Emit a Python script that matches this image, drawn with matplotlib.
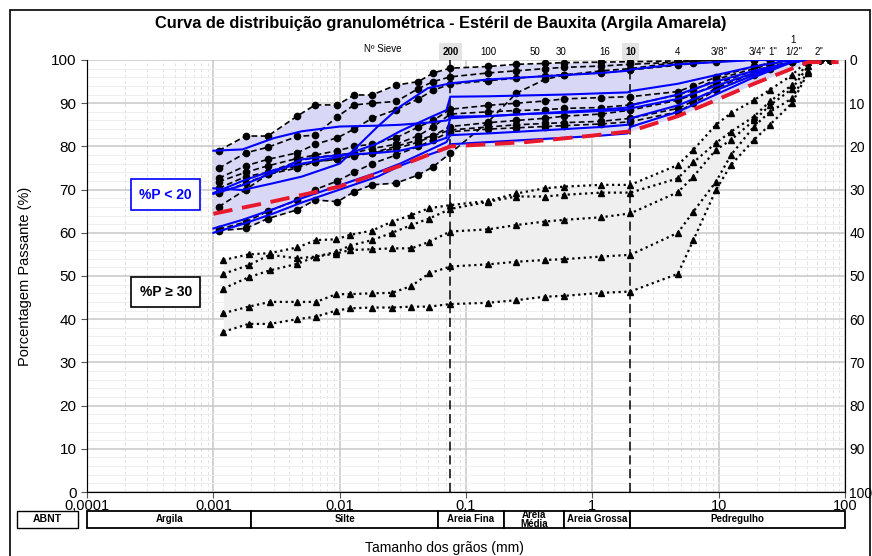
import numpy as np
import matplotlib.pyplot as plt
from matplotlib.patches import Rectangle
from matplotlib.ticker import FixedLocator, NullFormatter

plt.rcParams.update({
    "font.family": ["Liberation Sans", "DejaVu Sans"],
    "font.size": 10,
})
NARROW = ["Liberation Sans Narrow", "Liberation Sans", "DejaVu Sans"]

# grain sizes (mm) of the hydrometer + sieve readings
X_CIRC = [0.0011, 0.0018, 0.0027, 0.0046, 0.0064, 0.0096, 0.013, 0.018, 0.028,
          0.042, 0.055, 0.075, 0.15, 0.25, 0.42, 0.6, 1.18, 2.0, 4.75, 6.3,
          9.5, 19, 25.4, 38, 50.8, 63.5, 76.2]

# %P < 20 samples, dashed with circles
D1 = [79.0, 82.4, 82.4, 87.0, 89.6, 89.6, 91.9, 91.9, 94.2, 95.0, 97.0, 98.1, 98.5, 99.0,
      99.2, 99.4, 99.5, 99.6, 99.8, 99.9, 100, 100, 100, 100, 100, 100, 100]
D2 = [74.9, 78.5, 79.8, 82.3, 82.6, 86.9, 89.6, 90.0, 90.4, 93.4, 95.0, 96.1, 97.0, 97.5,
      98.0, 98.3, 98.6, 99.0, 99.5, 99.7, 100, 100, 100, 100, 100, 100, 100]
D3 = [72.6, 75.5, 77.0, 78.5, 80.5, 82.0, 84.0, 86.5, 88.5, 91.0, 93.0, 94.4, 95.2, 95.8,
      96.3, 96.6, 97.0, 97.7, 98.8, 99.2, 99.6, 100, 100, 100, 100, 100, 100]
D4 = [71.8, 74.0, 75.5, 77.2, 78.0, 79.0, 80.0, 80.5, 82.0, 84.5, 86.0, 88.6, 89.5, 90.0,
      90.5, 91.0, 91.3, 91.5, 92.7, 94.0, 96.0, 98.5, 99.3, 100, 100, 100, 100]
D5 = [70.3, 73.0, 74.0, 76.5, 77.5, 78.0, 78.5, 79.5, 80.5, 82.5, 84.5, 87.5, 88.0, 88.3,
      88.5, 88.8, 89.0, 89.6, 91.9, 93.0, 95.5, 98.0, 99.0, 100, 100, 100, 100]
D6 = [69.1, 71.5, 73.5, 75.0, 76.5, 77.0, 78.0, 78.5, 79.5, 81.0, 82.5, 84.6, 85.5, 86.0,
      86.5, 87.0, 87.5, 88.4, 90.7, 92.0, 94.5, 97.5, 98.5, 99.5, 100, 100, 100]
D7 = [66.0, 70.0, 73.5, 75.5, 76.5, 77.0, 77.8, 78.5, 80.0, 81.5, 82.5, 83.8, 84.5, 85.0,
      85.3, 85.5, 85.8, 86.5, 88.8, 90.5, 93.5, 97.0, 98.5, 99.5, 100, 100, 100]
D8 = [60.8, 62.5, 65.0, 67.5, 70.0, 72.0, 74.0, 76.0, 78.0, 80.0, 81.5, 83.4, 84.0, 84.3,
      84.6, 84.8, 85.2, 85.7, 88.0, 90.0, 93.0, 96.5, 98.0, 99.5, 100, 100, 100]
D9 = [60.5, 61.0, 63.3, 65.3, 67.6, 67.2, 69.5, 71.1, 71.5, 73.4, 75.3, 78.4, 85.7, 92.3,
      95.5, 96.5, 97.5, 98.0, 99.5, 99.7, 100, 100, 100, 100, 100, 100, 100]

# %P < 20 samples, solid blue
X_BLUE = [0.001, 0.0017, 0.003, 0.005, 0.01, 0.02, 0.03, 0.05, 0.07, 0.075, 0.15,
          0.3, 0.6, 1.18, 1.9, 2.0, 4.75, 9.5, 19, 38, 50.8]
B1 = [79.0, 79.3, 81.9, 83.5, 84.6, 84.8, 85.0, 85.5, 86.0, 86.5, 87.0, 87.5, 88.0,
      88.5, 89.0, 89.5, 92.0, 95.0, 97.5, 99.5, 100]
B2 = [70.3, 69.9, 71.5, 73.0, 76.0, 84.6, 89.2, 93.5, 94.4, 94.6, 95.5, 96.0, 96.5,
      97.0, 97.5, 97.8, 99.0, 99.5, 100, 100, 100]
B3 = [69.2, 72.0, 74.5, 76.0, 77.6, 80.7, 83.5, 86.5, 88.4, 91.5, 91.6, 91.8, 92.0,
      92.3, 92.5, 92.8, 94.5, 96.5, 98.5, 100, 100]
B4 = [69.0, 71.0, 74.0, 77.0, 78.0, 78.5, 79.0, 80.5, 82.0, 86.9, 87.0, 87.5, 87.8,
      88.2, 88.5, 88.8, 91.0, 94.0, 97.0, 99.5, 100]
B5 = [61.0, 63.0, 65.5, 68.0, 71.0, 74.0, 76.0, 79.0, 81.0, 82.6, 83.0, 83.5, 84.0,
      84.5, 85.0, 86.5, 89.5, 93.0, 96.5, 99.5, 100]
B6 = [60.0, 62.0, 64.5, 67.0, 70.0, 73.0, 75.5, 78.0, 79.5, 80.5, 81.0, 81.5, 82.0,
      82.5, 83.0, 84.5, 88.0, 92.0, 96.0, 99.5, 100]

# mean curve (red dashed)
X_RED = [0.001, 0.003, 0.01, 0.03, 0.075, 0.3, 1.0, 2.0, 4.75, 9.5, 19, 38, 50.8, 88.9]
RED = [64.4, 67.3, 70.7, 75.5, 80.0, 81.0, 82.5, 83.5, 87.0, 90.7, 94.5, 98.0, 99.5, 99.5]

# %P >= 30 samples, dotted with triangles
X_TRI = [0.0012, 0.0019, 0.0028, 0.0046, 0.0065, 0.0094, 0.012, 0.018, 0.026, 0.037,
         0.051, 0.075, 0.15, 0.25, 0.42, 0.6, 1.18, 2.0, 4.75, 6.3, 9.5, 12.5, 19,
         25.4, 38, 50.8]
T1 = [53.7, 55.0, 55.3, 56.6, 58.3, 58.5, 59.5, 60.5, 62.6, 64.1, 65.7, 66.4, 67.4,
      69.1, 70.3, 70.7, 71.1, 71.1, 75.7, 79.2, 85.0, 87.7, 90.7, 93.1, 96.5, 100]
T2 = [50.5, 52.5, 54.9, 54.1, 54.5, 55.6, 57.0, 58.3, 60.0, 61.8, 63.3, 65.5, 67.2,
      68.4, 68.4, 68.8, 69.3, 69.3, 72.6, 76.3, 80.8, 83.4, 86.9, 90.4, 94.2, 99.5]
T3 = [47.1, 49.7, 51.3, 52.8, 54.5, 55.2, 56.0, 56.2, 56.4, 56.4, 57.9, 60.3, 60.8,
      61.8, 62.6, 63.0, 63.6, 64.5, 69.4, 73.0, 79.2, 81.5, 86.0, 89.5, 93.3, 98.5]
T4 = [41.4, 42.9, 44.0, 44.0, 44.0, 45.8, 45.8, 46.0, 46.1, 47.7, 50.6, 52.2, 52.7,
      53.3, 53.7, 53.9, 54.5, 54.9, 60.0, 64.9, 71.8, 78.0, 84.6, 88.0, 91.1, 97.5]
T5 = [37.1, 38.9, 38.9, 40.0, 40.6, 42.0, 42.5, 42.7, 42.7, 42.9, 42.9, 43.5, 43.8,
      44.4, 45.2, 45.4, 46.1, 46.4, 50.5, 58.3, 69.9, 75.7, 81.5, 85.0, 90.0, 97.0]

# sieve labels across the top
SIEVE_LABELS = ["200", "100", "50", "30", "16", "10", "4", '3/8"', '3/4"', '1"', '1\n1/2"', '2"']
SIEVE_LABEL_X = [0.075, 0.15, 0.35, 0.57, 1.25, 2.0, 4.75, 10, 20, 27, 39, 62]

# ABNT classification
ABNT_NAMES = ["Argila", "Silte", "Areia Fina", "Areia\nMédia", "Areia Grossa", "Pedregulho"]
ABNT_EDGES = [0.0001, 0.002, 0.06, 0.2, 0.6, 2.0, 100]

X_TICKS = [0.0001, 0.001, 0.01, 0.1, 1, 10, 100]
X_TICK_LABELS = ["0,0001", "0,001", "0,01", "0,1", "1", "10", "100"]


def envelope(curves, grid):
    lg = np.log10(grid)
    vals = np.array([np.interp(lg, np.log10(x), y) for x, y in curves])
    return vals.min(axis=0), vals.max(axis=0)


fig = plt.figure(figsize=(8.72, 5.56), dpi=100)
ax = fig.add_axes([0.0998, 0.1151, 0.8693, 0.7770])
ax.set_xscale("log")
ax.set_xlim(1e-4, 100)
ax.set_ylim(0, 100)

# grid
ax.set_yticks(np.arange(0, 101, 10))
ax.yaxis.set_minor_locator(FixedLocator(np.arange(0, 101, 2)))
ax.grid(True, which="major", color="#c8c8c8", linewidth=1.1, zorder=0)
ax.grid(True, which="minor", axis="y", color="#ececec", linewidth=0.6, zorder=0)
ax.grid(True, which="minor", axis="x", color="#dedede", linewidth=0.6,
        linestyle=(0, (4, 3)), zorder=0)
ax.xaxis.set_minor_formatter(NullFormatter())
ax.tick_params(axis="x", which="minor", length=0)
ax.tick_params(axis="y", which="minor", length=0)
ax.set_axisbelow(True)

circ = [(X_CIRC, d) for d in (D1, D2, D3, D4, D5, D6, D7, D8, D9)]
blue = [(X_BLUE, b) for b in (B1, B2, B3, B4, B5, B6)]
tri = [(X_TRI, t) for t in (T1, T2, T3, T4, T5)]

# shaded bands
gb = np.geomspace(0.001, 50.8, 300)
lo, hi = envelope(circ + blue + [(X_RED, RED)], gb)
ax.fill_between(gb, lo, hi, color="#d8d8f6", linewidth=0, zorder=1)
gt = np.geomspace(X_TRI[0], X_TRI[-1], 300)
lo, hi = envelope(tri, gt)
ax.fill_between(gt, lo, hi, color="#efefef", linewidth=0, zorder=1)

for x, y in tri:
    ax.plot(x, y, color="black", linestyle=(0, (1, 1.6)), linewidth=1.6,
            marker="^", markersize=4.5, zorder=3)
for x, y in circ:
    ax.plot(x, y, color="black", linestyle=(0, (3.5, 2)), linewidth=1.2,
            marker="o", markersize=4.5, zorder=3)
for x, y in blue:
    ax.plot(x, y, color="#0000ff", linewidth=1.5, zorder=4)
ax.plot(X_RED, RED, color="#e8192c", linestyle=(0, (5, 2.5)), linewidth=2.8, zorder=5)

for xv in (0.075, 2.0):
    ax.axvline(xv, color="black", linewidth=1.1, linestyle=(0, (6, 3)), zorder=2)

ax.set_xticks(X_TICKS)
ax.set_xticklabels(X_TICK_LABELS)
ax.tick_params(axis="x", which="major", labelsize=10.5, length=4, pad=1, color="#555555")
ax.tick_params(axis="y", which="major", labelsize=11, length=4, color="#555555")
ax.set_ylabel("Porcentagem Passante (%)", fontsize=10.5, labelpad=14)
ax.spines["top"].set_visible(False)
for s in ("left", "bottom", "right"):
    ax.spines[s].set_color("#444444")

ax2 = ax.twinx()
ax2.set_ylim(100, 0)
ax2.set_yticks(np.arange(0, 101, 10))
ax2.tick_params(axis="y", labelsize=10, length=0, pad=3)
ax2.spines["top"].set_visible(False)

# sieve labels
ax.text(0.022, 101.5, "Nº Sieve", fontsize=7, ha="center", va="bottom", clip_on=False,
        family=NARROW)
for lab, xv in zip(SIEVE_LABELS, SIEVE_LABEL_X):
    hl = lab in ("200", "10")
    ax.text(xv, 100.8, lab, fontsize=7, ha="center", va="bottom", clip_on=False,
            fontweight="bold" if hl else "normal", linespacing=1.25, family=NARROW,
            bbox=dict(facecolor="#e4e4e4", edgecolor="none", pad=2.5) if hl else None)

# annotation boxes
ax.text(0.00042, 68.8, "%P < 20", fontsize=10, fontweight="bold", color="#0000ff",
        ha="center", va="center", zorder=6,
        bbox=dict(facecolor="white", edgecolor="#0000ff", linewidth=1.2, pad=6))
ax.text(0.00042, 46.3, "%P ≥ 30", fontsize=10, fontweight="bold", color="black",
        ha="center", va="center", zorder=6,
        bbox=dict(facecolor="white", edgecolor="black", linewidth=1.2, pad=6))

fig.text(0.505, 0.957, "Curva de distribuição granulométrica - Estéril de Bauxita (Argila Amarela)",
         ha="center", va="center", fontsize=11.8, fontweight="bold", family=NARROW)

# ABNT row
axb = fig.add_axes([0.0998, 0.0504, 0.8693, 0.0306])
axb.set_xscale("log")
axb.set_xlim(1e-4, 100)
axb.set_ylim(0, 1)
axb.axis("off")
for i, name in enumerate(ABNT_NAMES):
    x0, x1 = ABNT_EDGES[i], ABNT_EDGES[i + 1]
    axb.add_patch(Rectangle((x0, 0), x1 - x0, 1, facecolor="white", edgecolor="black",
                            linewidth=1.3, clip_on=False))
    axb.text(np.sqrt(x0 * x1), 0.5, name, ha="center", va="center", fontsize=7,
             fontweight="bold", linespacing=0.9, family=NARROW)
fig.patches.append(Rectangle((0.0195, 0.0504), 0.070, 0.0306, transform=fig.transFigure,
                             facecolor="white", edgecolor="black", linewidth=1.0))
fig.text(0.0545, 0.0657, "ABNT", ha="center", va="center", fontsize=7.5, fontweight="bold")

fig.text(0.51, 0.014, "Tamanho dos grãos (mm)", ha="center", va="center", fontsize=10)

# outer frame
fig.patches.append(Rectangle((0.012, -0.01), 0.986, 0.992, transform=fig.transFigure,
                             facecolor="none", edgecolor="black", linewidth=1.2))

fig.savefig("out.png", dpi=100)
